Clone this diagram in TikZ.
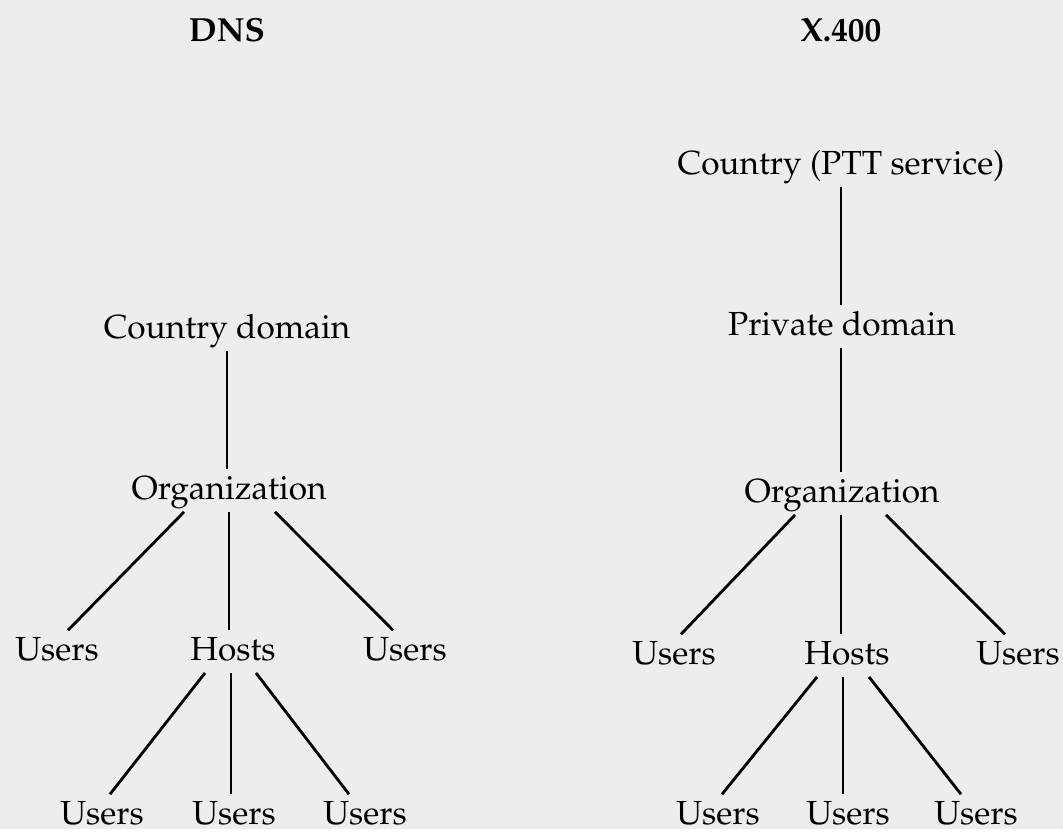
\documentclass[tikz,border=0pt]{standalone}
\usepackage[T1]{fontenc}
\usepackage{mathpazo}
\usetikzlibrary{calc}
\begin{document}
\begin{tikzpicture}[x=0.02cm, y=-0.02cm,
    lbl/.style={anchor=base, inner sep=0pt, outer sep=0pt, text height=17.5pt, text depth=6.8pt, font=\fontsize{19}{23}\selectfont},
    ttl/.style={lbl, font=\fontsize{19}{23}\selectfont\bfseries},
    link/.style={line width=1.6pt}]
    \fill[black!7] (0,0) rectangle (1063,829);

    % DNS
    \node[ttl] (dns) at (227,42) {DNS};
    \node[lbl] (cdom) at (227,339) {Country domain};
    \node[lbl] (org1) at (229,500) {Organization};
    \node[lbl] (u11) at (57,661) {Users};
    \node[lbl] (h1) at (233,661) {Hosts};
    \node[lbl] (u12) at (405,661) {Users};
    \node[lbl] (b11) at (102,825) {Users};
    \node[lbl] (b12) at (234,825) {Users};
    \node[lbl] (b13) at (365,825) {Users};

    \draw[link] (cdom.south) -- (cdom.south |- org1.north);
    \draw[link] ($(org1.south)+(-45,0)$) -- ($(u11.north)+(11,0)$);
    \draw[link] (org1.south) -- (org1.south |- h1.north);
    \draw[link] ($(org1.south)+(46,0)$) -- ($(u12.north)+(-12,0)$);
    \draw[link] ($(h1.south)+(-28,0)$) -- ($(b11.north)+(8,0)$);
    \draw[link] ($(h1.south)+(-2,0)$) -- ($(h1.south |- b12.north)+(-2,0)$);
    \draw[link] ($(h1.south)+(23,0)$) -- ($(b13.north)+(-16,0)$);

    % X.400
    \node[ttl] (x400) at (841,42) {X.400};
    \node[lbl] (ctry) at (841,175) {Country (PTT service)};
    \node[lbl] (priv) at (842,336) {Private domain};
    \node[lbl] (org2) at (842,503) {Organization};
    \node[lbl] (u21) at (674,665) {Users};
    \node[lbl] (h2) at (847,665) {Hosts};
    \node[lbl] (u22) at (1018,665) {Users};
    \node[lbl] (b21) at (718,825) {Users};
    \node[lbl] (b22) at (848,825) {Users};
    \node[lbl] (b23) at (976,825) {Users};

    \draw[link] (ctry.south) -- (ctry.south |- priv.north);
    \draw[link] ($(priv.south)+(-1,0)$) -- ($(priv.south |- org2.north)+(-1,0)$);
    \draw[link] ($(org2.south)+(-47,0)$) -- ($(u21.north)+(7,0)$);
    \draw[link] ($(org2.south)+(-1,0)$) -- ($(org2.south |- h2.north)+(-1,0)$);
    \draw[link] ($(org2.south)+(44,0)$) -- ($(u22.north)+(-13,0)$);
    \draw[link] ($(h2.south)+(-30,0)$) -- ($(b21.north)+(4,0)$);
    \draw[link] ($(h2.south)+(-4,0)$) -- ($(h2.south |- b22.north)+(-4,0)$);
    \draw[link] ($(h2.south)+(22,0)$) -- ($(b23.north)+(-15,0)$);
\end{tikzpicture}
\end{document}
